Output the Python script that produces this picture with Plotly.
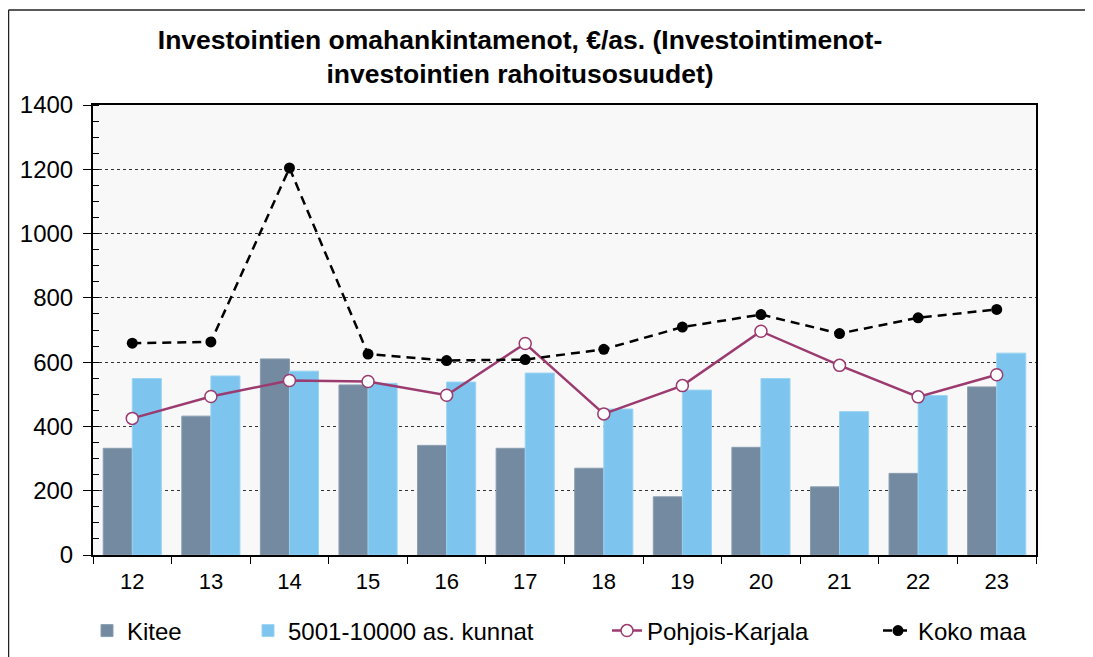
import plotly.graph_objects as go

categories = ["12", "13", "14", "15", "16", "17", "18", "19", "20", "21", "22", "23"]
kitee = [332, 432, 610, 529, 341, 332, 270, 181, 335, 212, 254, 523]
kunnat = [549, 557, 572, 534, 538, 566, 454, 513, 549, 446, 496, 628]
pohjois_karjala = [425, 493, 543, 540, 497, 658, 439, 527, 696, 590, 492, 561]
koko_maa = [659, 663, 1204, 625, 605, 608, 640, 709, 748, 689, 738, 764]

# page has an 8px body margin; work in figure coordinates (page - 8)
OFF = 8
W, H = 1093 - OFF, 657 - OFF
L, R, T, B = 93 - OFF, 1036 - OFF, 105 - OFF, 555 - OFF
PW, PH = R - L, B - T

def px_x(p):  # page x -> paper x
    return (p - OFF - L) / PW

def px_y(p):  # page y -> paper y
    return (B - (p - OFF)) / PH

def cy(p):  # page y -> container y
    return 1 - (p - OFF) / H

FONT = "Liberation Sans, Arial, sans-serif"

fig = go.Figure()
fig.add_trace(go.Bar(x=categories, y=kitee, name="Kitee",
                     marker=dict(color="#738AA0", line=dict(color="#8A9DB0", width=1)), legend="legend"))
fig.add_trace(go.Bar(x=categories, y=kunnat, name="5001-10000 as. kunnat",
                     marker=dict(color="#7DC5EE", line=dict(color="#9AD3F2", width=1)), legend="legend2"))
fig.add_trace(go.Scatter(x=categories, y=pohjois_karjala, name="Pohjois-Karjala", mode="lines+markers",
                         line=dict(color="#9B3B6F", width=2.5),
                         marker=dict(symbol="circle", size=12, color="white", line=dict(color="#9B3B6F", width=1.5)),
                         legend="legend3"))
fig.add_trace(go.Scatter(x=categories, y=koko_maa, name="Koko maa", mode="lines+markers",
                         line=dict(color="black", width=2.5, dash="9px,6px"),
                         marker=dict(symbol="circle", size=11, color="black"),
                         legend="legend4"))

leg_common = dict(orientation="h", yanchor="middle", yref="container", y=cy(631), xanchor="left",
                  font=dict(family=FONT, size=24, color="black"), bgcolor="rgba(0,0,0,0)")
fig.update_layout(
    width=W, height=H,
    margin=dict(l=L, r=W - R, t=T, b=H - B, autoexpand=False),
    paper_bgcolor="white",
    plot_bgcolor="#F8F8F8",
    barmode="group",
    bargap=0.26,
    bargroupgap=0,
    showlegend=True,
    title=dict(text="<b>Investointien omahankintamenot, €/as. (Investointimenot-<br>investointien rahoitusosuudet)</b>",
               x=(520 - OFF) / W, xanchor="center", xref="container",
               y=1 - 41 / H, yanchor="top", yref="container",
               font=dict(family=FONT, size=26.5, color="black")),
    font=dict(family=FONT, size=23, color="black"),
    legend=dict(**leg_common, x=px_x(128 - 41)),
    legend2=dict(**leg_common, x=px_x(289 - 41)),
    legend3=dict(**leg_common, x=px_x(648 - 41)),
    legend4=dict(**leg_common, x=px_x(919 - 41)),
    xaxis=dict(type="category", range=[-0.5, len(categories) - 0.5],
               showline=True, linecolor="black", linewidth=2, mirror=True,
               ticks="outside", ticklen=7, tickcolor="black", tickson="boundaries",
               ticklabelstandoff=6,
               tickfont=dict(family=FONT, size=22, color="black"), showgrid=False),
    yaxis=dict(range=[0, 1400], dtick=200, showline=True, linecolor="black", linewidth=2, mirror=True,
               ticks="outside", ticklen=8, tickcolor="black", ticklabelstandoff=5,
               showgrid=True, gridcolor="#333333", griddash="dot", gridwidth=1,
               tickfont=dict(family=FONT, size=24, color="black"),
               zeroline=False,
               minor=dict(dtick=50, ticks="inside", ticklen=6, tickcolor="black", showgrid=False)),
    shapes=[
        dict(type="line", xref="paper", yref="paper", x0=px_x(8.5), x1=px_x(1100), y0=px_y(10), y1=px_y(10),
             line=dict(color="#222222", width=1.5)),
        dict(type="line", xref="paper", yref="paper", x0=px_x(8.5), x1=px_x(8.5), y0=px_y(10), y1=px_y(670),
             line=dict(color="#222222", width=1.5)),
    ],
)

fig.write_html("out.html")
